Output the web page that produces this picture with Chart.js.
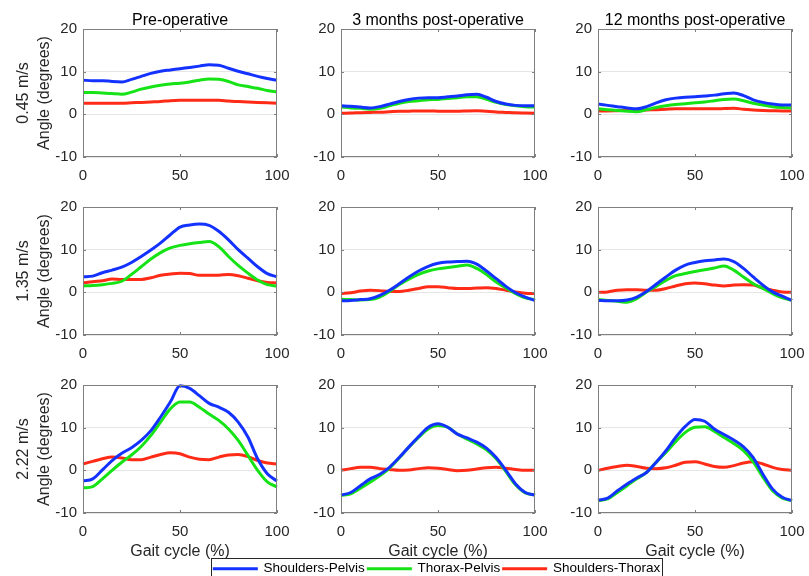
<!DOCTYPE html>
<html>
<head>
<meta charset="utf-8">
<script src="https://cdn.jsdelivr.net/npm/chart.js@4"></script>
<style>
  body { margin: 0; background: #fff; width: 809px; height: 576px; overflow: hidden; position: relative; }
  .panel { position: absolute; width: 292px; height: 200px; }
  #legendBox { position: absolute; left: 211px; top: 558px; width: 452px; height: 30px; border: 1px solid #262626; box-sizing: border-box; background: #fff; }
  #legendBox canvas { position: absolute; left: -15px; top: 0; }
</style>
</head>
<body>
<div id="legendBox"><canvas id="legendChart" width="480" height="40"></canvas></div>
<script>
// gait cycle sample points (%)
const gait = [0,5,10,15,20,25,30,35,40,45,50,55,60,65,70,75,80,85,90,95,100];
const seriesNames = ['Shoulders-Pelvis', 'Thorax-Pelvis', 'Shoulders-Thorax'];
const colTitles = ['Pre-operative', '3 months post-operative', '12 months post-operative'];
const speeds = ['0.45 m/s', '1.35 m/s', '2.22 m/s'];
const yTicks = [-10, 0, 10, 20];
const xTicks = [0, 50, 100];

// 0.45 m/s
const pre045SP = [8.0,7.9,7.9,7.7,7.6,8.2,8.9,9.6,10.1,10.4,10.7,11.0,11.3,11.6,11.5,10.8,10.1,9.5,8.9,8.4,8.0];
const pre045TP = [5.1,5.1,5.0,4.9,4.7,5.2,5.9,6.4,6.8,7.1,7.3,7.6,8.0,8.3,8.2,7.7,6.9,6.5,6.1,5.6,5.2];
const pre045ST = [2.6,2.6,2.6,2.6,2.6,2.7,2.8,2.9,3.0,3.2,3.3,3.3,3.3,3.3,3.3,3.1,3.0,2.9,2.8,2.7,2.6];
const m3_045SP = [2.0,1.9,1.7,1.5,1.8,2.4,3.0,3.5,3.8,3.9,3.9,4.1,4.3,4.6,4.7,4.0,3.0,2.4,2.1,2.0,2.0];
const m3_045TP = [1.7,1.5,1.4,1.2,1.4,2.0,2.6,3.0,3.2,3.4,3.5,3.7,3.9,4.1,4.1,3.5,2.8,2.3,2.0,1.8,1.7];
const m3_045ST = [0.25,0.3,0.4,0.45,0.5,0.6,0.7,0.75,0.8,0.8,0.75,0.7,0.7,0.8,0.85,0.7,0.55,0.45,0.35,0.3,0.25];
const m12_045SP = [2.4,2.1,1.8,1.5,1.3,1.8,2.7,3.4,3.8,4.0,4.1,4.3,4.5,4.8,5.0,4.4,3.4,2.8,2.4,2.2,2.2];
const m12_045TP = [1.3,1.1,0.9,0.7,0.6,1.1,1.6,2.0,2.3,2.5,2.7,2.9,3.2,3.5,3.6,3.2,2.6,2.2,1.8,1.6,1.5];
const m12_045ST = [0.8,0.8,0.85,0.9,0.9,1.0,1.1,1.2,1.3,1.3,1.3,1.3,1.3,1.35,1.4,1.2,1.0,0.9,0.85,0.8,0.8];

// 1.35 m/s
const pre135SP = [3.65,3.8,4.6,5.2,5.9,7.0,8.4,9.9,11.6,13.5,15.3,15.8,16.0,15.7,14.3,12.3,10.0,8.0,6.0,4.4,3.65];
const pre135TP = [1.5,1.6,1.8,2.1,2.6,4.2,6.0,7.8,9.3,10.4,11.0,11.4,11.7,11.9,10.7,8.4,6.3,4.5,2.9,1.8,1.5];
const pre135ST = [2.2,2.5,2.7,3.1,3.0,3.0,3.0,3.4,4.0,4.3,4.5,4.4,4.0,4.0,4.0,4.2,3.9,3.3,2.7,2.3,2.2];
const m3_135SP = [-2.0,-1.9,-1.7,-1.5,-0.7,0.5,2.0,3.6,5.0,6.1,6.8,7.1,7.2,7.3,6.6,5.0,3.2,1.4,-0.1,-1.1,-1.9];
const m3_135TP = [-1.6,-1.7,-1.8,-1.7,-1.1,0.2,1.8,3.1,4.2,5.0,5.5,5.8,6.1,6.4,5.6,4.2,2.4,1.0,-0.3,-1.3,-1.7];
const m3_135ST = [-0.3,-0.1,0.3,0.5,0.4,0.2,0.2,0.5,0.9,1.3,1.3,1.1,0.9,0.9,1.0,1.1,0.9,0.5,0.1,-0.2,-0.3];
const m12_135SP = [-1.9,-2.0,-2.0,-1.8,-1.1,0.2,1.9,3.6,5.2,6.4,7.0,7.4,7.6,7.8,7.2,5.6,3.6,1.7,0.1,-0.9,-1.9];
const m12_135TP = [-1.7,-1.9,-2.1,-2.3,-1.5,0.1,1.4,2.8,3.9,4.4,4.9,5.3,5.7,6.2,5.2,3.6,2.0,0.9,-0.3,-1.3,-1.9];
const m12_135ST = [0.0,0.1,0.5,0.6,0.6,0.5,0.5,0.9,1.5,2.0,2.2,2.0,1.7,1.5,1.7,1.8,1.7,1.0,0.5,0.1,0.0];

// 2.22 m/s
const pre222SP = [-2.5,-2.0,0.1,2.3,4.0,5.3,7.0,9.3,12.5,16.0,19.8,19.2,17.5,15.7,14.8,13.6,11.3,7.8,2.7,-0.8,-2.5];
const pre222TP = [-4.1,-3.8,-2.0,0.0,1.9,3.6,5.6,8.2,11.3,14.4,16.0,16.0,14.8,13.2,11.7,9.7,7.0,3.5,0.0,-2.7,-3.9];
const pre222ST = [1.5,2.1,2.7,3.1,2.9,2.5,2.5,3.1,3.7,4.1,3.9,3.1,2.6,2.5,3.1,3.6,3.7,3.2,2.3,1.7,1.5];
const m3_222SP = [-5.8,-5.2,-3.6,-2.0,-0.9,0.7,3.0,5.5,7.9,10.1,10.9,10.1,8.5,7.6,6.6,5.2,3.0,0.0,-3.2,-5.2,-5.8];
const m3_222TP = [-5.9,-5.5,-4.2,-2.8,-1.3,0.5,2.9,5.4,7.7,9.7,10.5,10.1,8.5,7.3,6.2,4.8,2.7,-0.3,-3.4,-5.3,-5.8];
const m3_222ST = [0.0,0.4,0.7,0.7,0.4,0.2,0.0,0.1,0.4,0.6,0.5,0.2,-0.1,0.0,0.3,0.6,0.7,0.5,0.2,0.0,0.0];
const m12_222SP = [-7.0,-6.5,-4.8,-3.2,-1.8,-0.5,1.9,4.6,7.7,10.3,11.9,11.5,9.7,8.4,7.1,5.5,3.0,-0.9,-4.4,-6.3,-7.1];
const m12_222TP = [-7.1,-6.7,-5.2,-3.6,-2.0,-0.5,1.9,4.2,6.7,8.9,10.1,10.2,9.1,7.7,6.3,4.6,2.0,-1.6,-4.8,-6.5,-7.1];
const m12_222ST = [0.0,0.5,0.9,1.2,0.9,0.5,0.4,0.6,1.2,1.9,2.0,1.5,0.9,0.7,1.1,1.7,2.0,1.5,0.7,0.2,0.0];

const panels = [
  [[pre045SP, pre045TP, pre045ST], [m3_045SP, m3_045TP, m3_045ST], [m12_045SP, m12_045TP, m12_045ST]],
  [[pre135SP, pre135TP, pre135ST], [m3_135SP, m3_135TP, m3_135ST], [m12_135SP, m12_135TP, m12_135ST]],
  [[pre222SP, pre222TP, pre222ST], [m3_222SP, m3_222TP, m3_222ST], [m12_222SP, m12_222TP, m12_222ST]]
];

const colors = ['#1432ff', '#16e316', '#ff2b17'];
const textColor = '#262626';
const font = 'Arial, "Liberation Sans", sans-serif';
const plotLefts = [83, 341, 598];
const plotTops = [29, 207, 385];
const Y_AXIS_W = 82, TITLE_H = 22, X_AXIS_H = 50, RIGHT_PAD = 16;

// box around plot area with inward ticks, like matlab
const boxPlugin = {
  id: 'box',
  afterDraw(chart) {
    const {ctx, chartArea: a, scales} = chart;
    ctx.save();
    ctx.strokeStyle = '#7f7f7f';
    ctx.lineWidth = 1;
    ctx.strokeRect(a.left + 0.5, a.top + 0.5, a.right - a.left - 1, a.bottom - a.top - 1);
    ctx.beginPath();
    xTicks.forEach(v => {
      const px = Math.round(scales.x.getPixelForValue(v)) + 0.5;
      ctx.moveTo(px, a.bottom); ctx.lineTo(px, a.bottom - 3);
      ctx.moveTo(px, a.top); ctx.lineTo(px, a.top + 3);
    });
    yTicks.forEach(v => {
      const py = Math.round(scales.y.getPixelForValue(v)) + 0.5;
      ctx.moveTo(a.left, py); ctx.lineTo(a.left + 3, py);
      ctx.moveTo(a.right, py); ctx.lineTo(a.right - 3, py);
    });
    ctx.stroke();
    ctx.restore();
  }
};

function makePanel(r, c) {
  const div = document.createElement('div');
  div.className = 'panel';
  div.style.left = (plotLefts[c] - Y_AXIS_W) + 'px';
  div.style.top = (plotTops[r] - TITLE_H) + 'px';
  const canvas = document.createElement('canvas');
  canvas.width = Y_AXIS_W + 194 + RIGHT_PAD; canvas.height = 200;
  div.appendChild(canvas);
  document.body.appendChild(div);

  const datasets = panels[r][c].map((vals, i) => ({
    label: seriesNames[i],
    data: gait.map((g, k) => ({x: g, y: vals[k]})),
    borderColor: colors[i],
    backgroundColor: colors[i],
    borderWidth: 3,
    pointRadius: 0,
    clip: false,
    cubicInterpolationMode: 'monotone'
  }));

  new Chart(canvas, {
    type: 'line',
    data: { datasets: datasets },
    plugins: [boxPlugin],
    options: {
      responsive: false,
      animation: false,
      layout: { padding: { left: 0, right: RIGHT_PAD, top: 0, bottom: 0 } },
      scales: {
        x: {
          type: 'linear', min: 0, max: 100,
          afterBuildTicks: s => { s.ticks = xTicks.map(v => ({value: v})); },
          afterFit: s => { s.height = X_AXIS_H; s.paddingLeft = 0; s.paddingRight = 0; },
          grid: { display: false, drawTicks: false },
          border: { display: false },
          ticks: { color: textColor, font: { family: font, size: 15 }, padding: 10, maxRotation: 0 },
          title: { display: r === 2, text: 'Gait cycle (%)', color: textColor, font: { family: font, size: 16 }, padding: { top: 0, bottom: 2 } }
        },
        y: {
          min: -10, max: 20,
          afterBuildTicks: s => { s.ticks = yTicks.map(v => ({value: v})); },
          afterFit: s => { s.width = Y_AXIS_W; },
          grid: { color: '#e6e6e6', drawTicks: false },
          border: { display: false },
          ticks: { color: textColor, font: { family: font, size: 15 }, padding: 6 },
          title: { display: c === 0, text: [speeds[r], 'Angle (degrees)'], color: textColor, font: { family: font, size: 16, lineHeight: 1.3 }, padding: { top: 12, bottom: 0 } }
        }
      },
      plugins: {
        legend: { display: false },
        tooltip: { enabled: false },
        title: {
          display: true,
          fullSize: false,
          text: r === 0 ? colTitles[c] : '',
          color: '#000',
          font: { family: font, size: 16, weight: 'normal', lineHeight: 1 },
          padding: { top: 6, bottom: 0 }
        }
      }
    }
  });
}

for (let r = 0; r < 3; r++) {
  for (let c = 0; c < 3; c++) makePanel(r, c);
}

// shared legend
new Chart(document.getElementById('legendChart'), {
  type: 'line',
  data: {
    datasets: seriesNames.map((name, i) => ({
      label: name, data: [], borderColor: colors[i], backgroundColor: colors[i], borderWidth: 2
    }))
  },
  options: {
    responsive: false,
    animation: false,
    layout: { padding: 0 },
    scales: { x: { display: false }, y: { display: false } },
    plugins: {
      tooltip: { enabled: false },
      legend: {
        display: true,
        position: 'top',
        maxHeight: 30,
        labels: { boxWidth: 43, boxHeight: 1, padding: 3, color: '#000', font: { family: font, size: 13.5 } }
      }
    }
  }
});
</script>
</body>
</html>
